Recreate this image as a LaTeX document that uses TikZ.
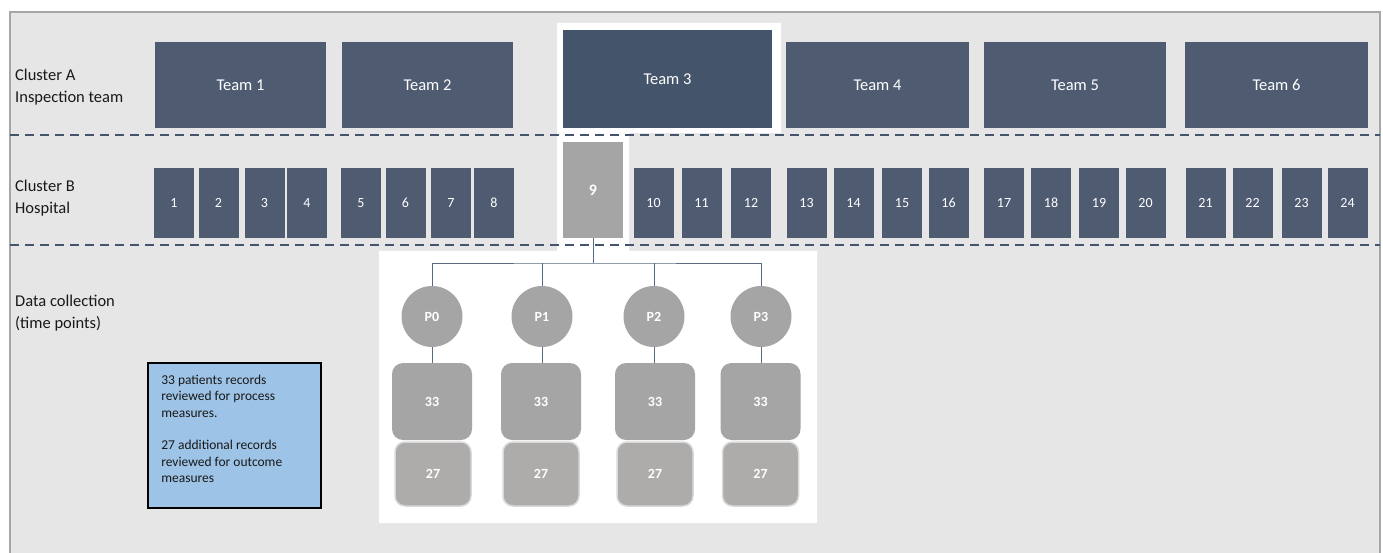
\documentclass[tikz,border=0pt]{standalone}
\usepackage{fontspec}
\setmainfont{Carlito}
\definecolor{panel}{HTML}{E7E6E6}
\definecolor{panelline}{HTML}{A6A6A6}
\definecolor{slate}{HTML}{4E5B71}
\definecolor{slatedark}{HTML}{44546A}
\definecolor{dashc}{HTML}{44546A}
\definecolor{greybox}{HTML}{A5A5A5}
\definecolor{greylite}{HTML}{AEABAB}
\definecolor{greyrim}{HTML}{D9D9D9}
\definecolor{bluebox}{HTML}{9DC3E6}
\definecolor{linkc}{HTML}{5A6A80}
\tikzset{
  teambox/.style={fill=slate, draw=none, inner sep=0pt, minimum height=86pt, text=white, font=\fontsize{16.5}{20}\selectfont},
  hospbox/.style={fill=slate, draw=none, inner sep=0pt, minimum width=40pt, minimum height=70pt, text=white, font=\fontsize{14}{16}\selectfont},
  rowlabel/.style={anchor=west, align=left, inner sep=0pt, font=\fontsize{16.5}{21.5}\selectfont, text=black!90},
  sepline/.style={draw=dashc, line width=2.2pt, dash pattern=on 9pt off 6pt},
  tpoint/.style={circle, fill=greybox, draw=none, minimum size=61pt, inner sep=0pt, text=white, font=\bfseries\fontsize{14}{16}\selectfont},
  countbox/.style={rounded corners=11pt, fill=greybox, draw=none, minimum width=80pt, minimum height=77pt, inner sep=0pt, text=white, font=\bfseries\fontsize{14}{16}\selectfont},
  extrabox/.style={rounded corners=10pt, fill=greylite, draw=greyrim, line width=1.5pt, minimum width=76pt, minimum height=64pt, inner sep=0pt, text=white, font=\bfseries\fontsize{14}{16}\selectfont},
  link/.style={draw=linkc, line width=0.9pt}
}
\begin{document}
\begin{tikzpicture}[x=1pt,y=-1pt]
\useasboundingbox (0,0) rectangle (1383,553);
\clip (0,0) rectangle (1383,553);
% outer panel
\draw[fill=panel, draw=panelline, line width=2pt] (10,12) rectangle (1380,570);
% white highlight region
\fill[white] (557,23) -- (781,23) -- (781,133) -- (629,133) -- (629,251) -- (817,251) -- (817,523) -- (379,523) -- (379,251) -- (557,251) -- cycle;
% separators
\draw[sepline] (10,135) -- (1380,135);
\draw[sepline] (10,245) -- (1380,245);
% row labels
\node[rowlabel] (labA) at (15,87) {Cluster A\\Inspection team};
\node[rowlabel] (labB) at (15,198) {Cluster B\\Hospital};
\node[rowlabel] (labC) at (15,313) {Data collection\\(time points)};
% teams
\node[teambox, minimum width=171pt] (t1) at (240.5,85) {Team 1};
\node[teambox, minimum width=171pt] (t2) at (427.5,85) {Team 2};
\node[teambox, fill=slatedark, minimum width=209pt, minimum height=98pt] (t3) at (667.5,79) {Team 3};
\node[teambox, minimum width=183pt] (t4) at (877.5,85) {Team 4};
\node[teambox, minimum width=182pt] (t5) at (1075,85) {Team 5};
\node[teambox, minimum width=183pt] (t6) at (1276.5,85) {Team 6};
% hospitals
\foreach \n/\x in {1/174,2/218.5,3/264.5,4/307,5/361,6/405.5,7/451,8/494,
  10/653.5,11/701.5,12/751,13/806.5,14/853.5,15/902,16/948.5,
  17/1004,18/1051,19/1099,20/1145.5,21/1205.5,22/1252.5,23/1301.5,24/1347.5}
  \node[hospbox] (h\n) at (\x,203) {\n};
\node[hospbox, fill=greybox, minimum width=60pt, minimum height=96pt, font=\bfseries\fontsize{16}{18}\selectfont] (h9) at (593,190) {9};
% time points
\coordinate (hub) at (593,263);
\node[tpoint] (p0) at (432,316.5) {P0};
\node[tpoint] (p1) at (542,316.5) {P1};
\node[tpoint] (p2) at (654,316.5) {P2};
\node[tpoint] (p3) at (761,316.5) {P3};
\node[countbox] (c0) at (432,401.5) {33};
\node[countbox] (c1) at (541,401.5) {33};
\node[countbox] (c2) at (655,401.5) {33};
\node[countbox] (c3) at (760.5,401.5) {33};
\node[extrabox] (e0) at (433,474) {27};
\node[extrabox] (e1) at (541,474) {27};
\node[extrabox] (e2) at (655,474) {27};
\node[extrabox] (e3) at (760.5,474) {27};
% connectors
\draw[link] (h9.south) -- (hub);
\draw[link] (p0.north) |- (hub) -| (p3.north);
\draw[link] (p1.north) -- (p1.north |- hub);
\draw[link] (p2.north) -- (p2.north |- hub);
\foreach \i in {0,1,2,3}
  \draw[link] (p\i.south) -- (p\i.south |- c\i.north);
% legend box
\node[fill=bluebox, draw=black, line width=1.8pt, minimum width=173pt, minimum height=145pt, inner sep=0pt] (legend) at (234.5,435.5) {};
\node[anchor=north west, align=left, inner sep=0pt, font=\fontsize{13.5}{16.3}\selectfont, text=black!90] (legtext) at ([xshift=14pt,yshift=-13pt]legend.north west)
  {33 patients records\\reviewed for process\\measures.\\[16.3pt]27 additional records\\reviewed for outcome\\measures};
\end{tikzpicture}
\end{document}
